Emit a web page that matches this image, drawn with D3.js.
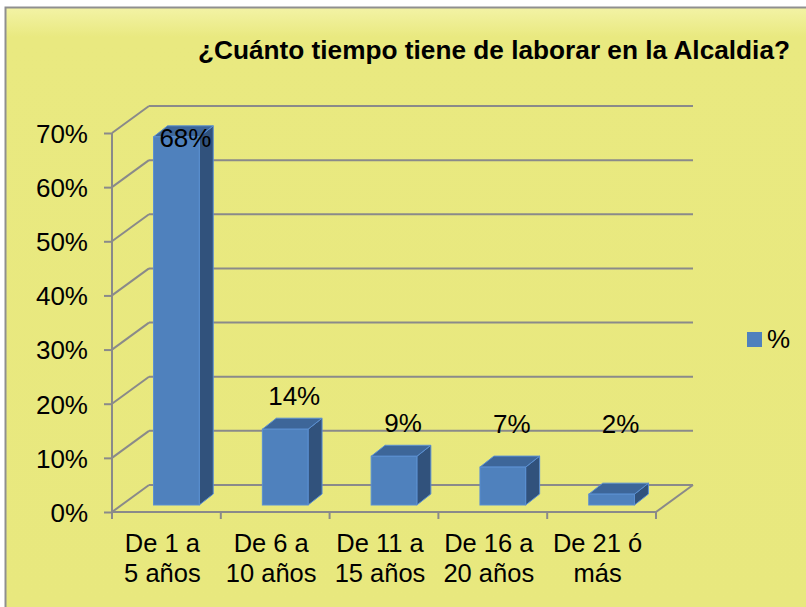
<!DOCTYPE html>
<html>
<head>
<meta charset="utf-8">
<script src="https://cdn.jsdelivr.net/npm/d3@7"></script>
<style>
  html, body { margin: 0; padding: 0; background: #ffffff; }
  svg { display: block; }
  text { font-family: "Liberation Sans", Arial, sans-serif; fill: #000; }
</style>
</head>
<body>
<svg id="chart" width="806" height="607"></svg>
<script>
// ---- data ----
const title = "¿Cuánto tiempo tiene de laborar en la Alcaldia?";
const categories = [["De 1 a", "5 años"], ["De 6 a", "10 años"], ["De 11 a", "15 años"], ["De 16 a", "20 años"], ["De 21 ó", "más"]];
const values = [68, 14, 9, 7, 2];
const valueLabels = ["68%", "14%", "9%", "7%", "2%"];
const yTicks = [0, 10, 20, 30, 40, 50, 60, 70];
const yTickLabels = ["0%", "10%", "20%", "30%", "40%", "50%", "60%", "70%"];
const seriesName = "%";

// ---- layout ----
const svg = d3.select("#chart");
const W = 806, H = 607;
const plot = { left: 112, right: 656, bottom: 512, top: 133 };
const depth = { dx: 37, dy: -27 };
const grid = "#8a8a8a";

const defs = svg.append("defs");
const lg = defs.append("linearGradient").attr("id", "bg").attr("x1", 0).attr("y1", 0).attr("x2", 0).attr("y2", 1);
lg.append("stop").attr("offset", "0").attr("stop-color", "#f3f3a6");
lg.append("stop").attr("offset", "0.05").attr("stop-color", "#e9e980");
lg.append("stop").attr("offset", "1").attr("stop-color", "#e8e87e");

// background + border (top and left)
svg.append("rect").attr("x", 5).attr("y", 7).attr("width", W - 5).attr("height", H - 7).attr("fill", "url(#bg)");
svg.append("path").attr("d", `M5.5,${H} L5.5,7.5 L${W},7.5`).attr("fill", "none").attr("stroke", "#8f8f8f").attr("stroke-width", 2);

const x = d3.scaleBand().domain(d3.range(categories.length)).range([plot.left, plot.right]).padding(0);
const y = d3.scaleLinear().domain([0, 70]).range([plot.bottom, plot.top]);

const g = svg.append("g");

// walls / gridlines
yTicks.forEach(t => {
  const yy = y(t);
  g.append("line").attr("x1", plot.left).attr("y1", yy).attr("x2", plot.left + depth.dx).attr("y2", yy + depth.dy)
    .attr("stroke", grid).attr("stroke-width", 2);
  g.append("line").attr("x1", plot.left + depth.dx).attr("y1", yy + depth.dy).attr("x2", plot.right + depth.dx).attr("y2", yy + depth.dy)
    .attr("stroke", grid).attr("stroke-width", 2);
});
// floor right edge
g.append("line").attr("x1", plot.right).attr("y1", plot.bottom).attr("x2", plot.right + depth.dx).attr("y2", plot.bottom + depth.dy)
  .attr("stroke", grid).attr("stroke-width", 2);

// front axes
const yAxis = d3.axisLeft(y).tickValues(yTicks).tickSize(8).tickFormat((d, i) => yTickLabels[i]);
const ya = g.append("g").attr("transform", `translate(${plot.left},0)`).call(yAxis);
ya.select(".domain").attr("stroke", grid).attr("stroke-width", 2).attr("d", `M0,${plot.bottom}V${plot.top}`);
ya.selectAll(".tick line").attr("stroke", grid).attr("stroke-width", 2);
ya.selectAll(".tick text").attr("x", -24).attr("dy", "0.36em").style("font-size", "26px")
  .style("font-family", "'Liberation Sans', Arial, sans-serif").attr("fill", "#000");

g.append("line").attr("x1", plot.left).attr("y1", plot.bottom).attr("x2", plot.right).attr("y2", plot.bottom)
  .attr("stroke", grid).attr("stroke-width", 2);
const boundaries = d3.range(categories.length + 1).map(i => plot.left + i * x.step());
g.selectAll(".xt").data(boundaries).enter().append("line")
  .attr("x1", d => d).attr("x2", d => d).attr("y1", plot.bottom).attr("y2", plot.bottom + 7)
  .attr("stroke", grid).attr("stroke-width", 2);

// bars (3D)
const barW = x.step() * 0.42;
const front = { dx: 10, dy: -7 };
const side = { dx: 14, dy: -11 };
const bars = g.append("g");
values.forEach((v, i) => {
  const cx = x(i) + x.step() / 2;
  const x0 = cx - barW / 2 + front.dx, x1 = x0 + barW;
  const yb = y(0) + front.dy, yt = y(v) + front.dy;
  bars.append("path").attr("d", `M${x1},${yb} L${x1 + side.dx},${yb + side.dy} L${x1 + side.dx},${yt + side.dy} L${x1},${yt} Z`)
    .attr("fill", "#31527c").attr("stroke", "#5a8fd2").attr("stroke-width", 1).attr("stroke-linejoin", "round");
  bars.append("path").attr("d", `M${x0},${yt} L${x0 + side.dx},${yt + side.dy} L${x1 + side.dx},${yt + side.dy} L${x1},${yt} Z`)
    .attr("fill", "#3d6699").attr("stroke", "#5a8fd2").attr("stroke-width", 1).attr("stroke-linejoin", "round");
  bars.append("rect").attr("x", x0).attr("y", yt).attr("width", barW).attr("height", yb - yt)
    .attr("fill", "#4f81bd").attr("stroke", "#5a8fd2").attr("stroke-width", 1);
});

// data labels
values.forEach((v, i) => {
  const cx = x(i) + x.step() / 2 + front.dx + 9;
  const lv = v > 60 ? v - 1.8 : Math.max(v + 4.5, 13.3);
  g.append("text").attr("x", cx).attr("y", y(lv) + front.dy).attr("text-anchor", "middle")
    .style("font-size", "26px").text(valueLabels[i]);
});

// category labels
categories.forEach((c, i) => {
  const cx = x(i) + x.step() / 2 - 4;
  const t = g.append("text").attr("text-anchor", "middle").style("font-size", "25.5px");
  t.append("tspan").attr("x", cx).attr("y", 552).text(c[0]);
  t.append("tspan").attr("x", cx).attr("y", 581.5).text(c[1]);
});

// title
svg.append("text").attr("x", 198).attr("y", 58.5).style("font-size", "26.3px").style("font-weight", "bold")
  .attr("textLength", 592).attr("lengthAdjust", "spacingAndGlyphs").text(title);

// legend
svg.append("rect").attr("x", 747).attr("y", 332).attr("width", 15).attr("height", 15).attr("fill", "#4f81bd");
svg.append("text").attr("x", 767).attr("y", 348).style("font-size", "26px").text(seriesName);
</script>
</body>
</html>
